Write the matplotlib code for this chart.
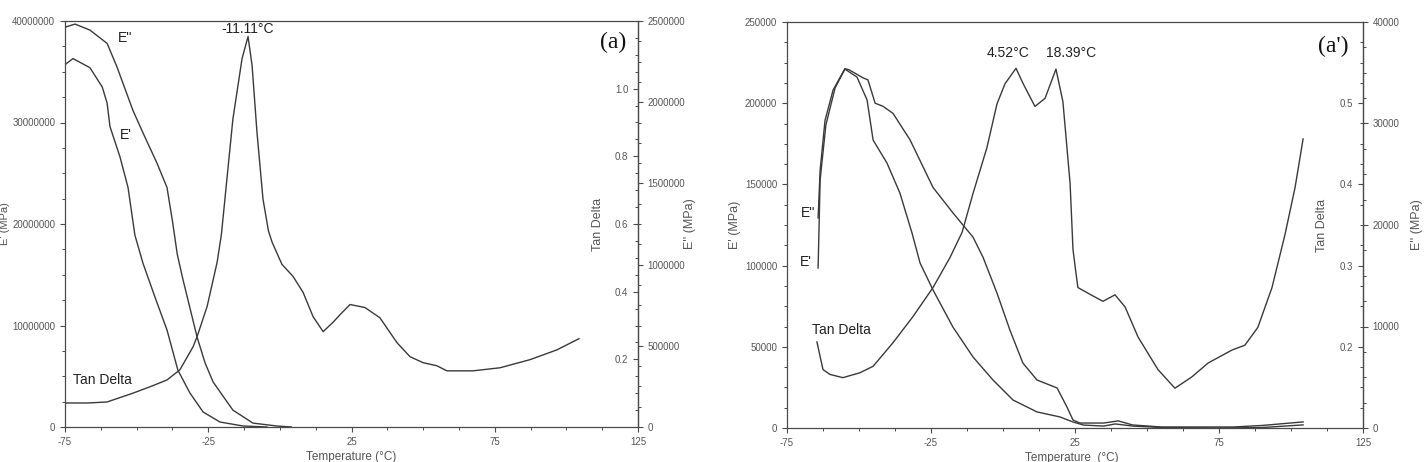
import matplotlib
matplotlib.use('Agg')
import matplotlib.pyplot as plt
from matplotlib.ticker import MultipleLocator, FormatStrFormatter

plt.rcParams['font.family'] = ['Liberation Sans', 'DejaVu Sans']
plt.rcParams['axes.unicode_minus'] = False

temp_ticks = [-75, -25, 25, 75, 125]

# ---- panel (a) ----
a_e1_temp = [-75, -72.2, -66.3, -62.0, -60.3, -59.3, -55.8, -53.0, -50.6, -47.8, -43.6,
             -39.4, -35.6, -31.4, -26.8, -20.9, -12.9, -4.5]
a_e1 = [35700000, 36300000, 35400000, 33500000, 31900000, 29600000, 26600000, 23600000,
        18900000, 16150000, 12800000, 9560000, 5600000, 3350000, 1480000, 490000, 100000, 0]

a_e2_temp = [-75, -71.5, -66.3, -60.3, -56.9, -51.3, -47.8, -42.9, -39.4, -37.5, -35.8,
             -33.8, -28.9, -26.1, -23.3, -16.4, -9.4, -1.0, 4.0]
a_e2 = [2462000, 2481000, 2444000, 2362000, 2219000, 1950000, 1812000, 1625000, 1475000,
        1269000, 1062000, 906000, 554000, 394000, 277000, 104000, 24000, 6000, 0]

a_tan_temp = [-75, -67.0, -60.3, -51.3, -45.3, -39.4, -34.9, -30.3, -28.9, -25.4, -21.9,
              -20.4, -16.4, -13.2, -11.11, -9.7, -8.0, -5.9, -4.0, -2.7, 0.7, 4.6, 8.1,
              11.6, 15.1, 18.5, 21.0, 24.5, 28.0, 29.7, 34.9, 40.9, 45.4, 50.0, 54.8,
              58.3, 67.4, 76.8, 87.3, 96.7, 104.4]
a_tan = [0.071, 0.071, 0.074, 0.100, 0.119, 0.139, 0.169, 0.237, 0.267, 0.356, 0.487,
         0.570, 0.910, 1.089, 1.154, 1.068, 0.872, 0.674, 0.580, 0.546, 0.481, 0.445,
         0.398, 0.326, 0.282, 0.309, 0.332, 0.362, 0.356, 0.353, 0.323, 0.249, 0.208,
         0.190, 0.181, 0.166, 0.166, 0.175, 0.199, 0.228, 0.261]

# ---- panel (a') ----
ap_e1_temp = [-64.2, -63.5, -61.5, -58.3, -54.9, -50.7, -47.2, -45.1, -40.3, -35.8, -31.6,
              -28.8, -24.3, -17.4, -10.4, -3.5, 3.5, 11.8, 19.8, 24.3, 28.0, 35.0, 39.0,
              45.0, 55.0, 75.0, 90.0, 104.2]
ap_e1 = [98500, 152700, 186600, 209400, 221000, 216100, 202000, 177300, 163200, 144700,
         120100, 101600, 85000, 62200, 43700, 29600, 17200, 9900, 6800, 3700, 1800, 1200,
         2500, 1200, 300, 0, 300, 1900]

ap_e2_temp = [-64.2, -63.5, -61.8, -59.0, -54.9, -53.5, -48.6, -46.9, -44.4, -41.7, -38.2,
              -32.3, -24.3, -17.4, -10.4, -6.9, -2.1, 2.4, 6.9, 11.8, 18.8, 22.2, 24.3,
              26.7, 35.0, 40.0, 45.0, 55.0, 80.0, 90.0, 104.2]
ap_e2 = [20700, 25400, 30300, 33300, 35400, 35300, 34500, 34300, 32000, 31700, 31000,
         28400, 23700, 21200, 18800, 16800, 13300, 9650, 6400, 4730, 3940, 2070, 790,
         490, 490, 700, 300, 100, 100, 250, 600]

ap_tan_temp = [-64.6, -63.5, -62.5, -60.1, -55.6, -49.7, -45.1, -38.2, -31.3, -24.3, -18.4,
               -14.2, -10.4, -5.6, -2.1, 0.7, 4.52, 7.0, 11.1, 14.6, 18.39, 20.8, 23.3,
               24.3, 25.0, 26.0, 29.5, 34.7, 38.9, 42.4, 46.9, 53.8, 59.7, 65.6, 71.2,
               79.5, 84.0, 88.5, 93.4, 97.9, 101.4, 104.2]
ap_tan = [0.206, 0.188, 0.172, 0.166, 0.162, 0.168, 0.176, 0.205, 0.237, 0.273, 0.310,
          0.341, 0.389, 0.445, 0.499, 0.524, 0.543, 0.524, 0.496, 0.506, 0.542, 0.502,
          0.401, 0.320, 0.300, 0.273, 0.266, 0.256, 0.264, 0.249, 0.212, 0.172, 0.149,
          0.163, 0.180, 0.196, 0.202, 0.224, 0.273, 0.338, 0.396, 0.456]

line_col = '#3a3a3a'
axis_col = '#4a4a4a'
tick_col = '#555555'
text_col = '#222222'


def make_panel(fig, rect, e1_lim, e1_step, e2_lim, e2_step, tan_lim, tan_ticks, tan_minor):
    ax = fig.add_axes(rect)
    tan = ax.twinx()
    e2 = ax.twinx()

    ax.set_xlim(-75, 125)
    ax.set_ylim(*e1_lim)
    e2.set_ylim(*e2_lim)
    tan.set_ylim(*tan_lim)

    for s in ax.spines.values():
        s.set_color(axis_col)
        s.set_linewidth(0.9)
    # tan delta shares the right spine, but ticks/labels point inwards
    for s in ['top', 'bottom', 'right']:
        tan.spines[s].set_visible(False)
    tan.spines['left'].set_position(('axes', 1.0))
    tan.spines['left'].set_color(axis_col)
    tan.yaxis.set_ticks_position('left')
    for s in ['top', 'bottom', 'left']:
        e2.spines[s].set_visible(False)
    e2.spines['right'].set_color(axis_col)

    ax.set_xticks(temp_ticks)
    ax.xaxis.set_minor_locator(MultipleLocator(12.5))
    ax.yaxis.set_major_locator(MultipleLocator(e1_step))
    ax.yaxis.set_minor_locator(MultipleLocator(e1_step / 4))
    ax.yaxis.set_major_formatter(FormatStrFormatter('%d'))
    e2.yaxis.set_major_locator(MultipleLocator(e2_step))
    e2.yaxis.set_minor_locator(MultipleLocator(e2_step / 4))
    e2.yaxis.set_major_formatter(FormatStrFormatter('%d'))
    tan.set_yticks(tan_ticks)
    tan.yaxis.set_minor_locator(MultipleLocator(tan_minor))
    tan.yaxis.set_major_formatter(FormatStrFormatter('%.1f'))

    for a in (ax, tan, e2):
        a.tick_params(which='major', length=3.5, width=0.8, color=axis_col,
                      labelsize=7, labelcolor=tick_col, pad=3.5)
        a.tick_params(which='minor', length=2, width=0.7, color=axis_col)
    return ax, tan, e2


def label(ax, x, y, s, **kw):
    opts = dict(transform=ax.transAxes, ha='center', va='center', fontsize=10, color=text_col)
    opts.update(kw)
    ax.text(x, y, s, **opts)


fig = plt.figure(figsize=(14.25, 4.62), dpi=100)

# (a)
ax, tan, e2 = make_panel(fig, [65 / 1425, 35 / 462, 573 / 1425, 406 / 462],
                         (0, 40000000), 10000000, (0, 2500000), 500000,
                         (0, 1.2), [0.2, 0.4, 0.6, 0.8, 1.0], 0.05)
ax.plot(a_e1_temp, a_e1, color=line_col, lw=1.0)
e2.plot(a_e2_temp, a_e2, color=line_col, lw=1.0)
tan.plot(a_tan_temp, a_tan, color=line_col, lw=1.0)

label(ax, 0.105, 0.958, "E''")
label(ax, 0.106, 0.719, "E'")
label(ax, 0.014, 0.116, 'Tan Delta', ha='left')
label(ax, 0.319, 0.980, '-11.11°C')
label(ax, 0.956, 0.948, '(a)', fontsize=17, family='Liberation Serif', color='#111111')
label(ax, 0.5, -0.058, 'Temperature (°C)', va='top', fontsize=8.5, color=tick_col)
label(ax, -0.104, 0.5, "E' (MPa)", rotation=90, fontsize=8, color=tick_col)
label(ax, 0.930, 0.5, 'Tan Delta', rotation=90, fontsize=9, color=tick_col)
label(ax, 1.091, 0.5, "E'' (MPa)", rotation=90, fontsize=9, color=tick_col)

# (a')
bx, btan, be2 = make_panel(fig, [787 / 1425, 34 / 462, 576 / 1425, 406 / 462],
                           (0, 250000), 50000, (0, 40000), 10000,
                           (0.1, 0.6), [0.2, 0.3, 0.4, 0.5], 0.025)
bx.plot(ap_e1_temp, ap_e1, color=line_col, lw=1.0)
be2.plot(ap_e2_temp, ap_e2, color=line_col, lw=1.0)
btan.plot(ap_tan_temp, ap_tan, color=line_col, lw=1.0)

label(bx, 0.036, 0.530, "E''")
label(bx, 0.033, 0.409, "E'")
label(bx, 0.043, 0.241, 'Tan Delta', ha='left')
label(bx, 0.384, 0.924, '4.52°C')
label(bx, 0.493, 0.924, '18.39°C')
label(bx, 0.948, 0.941, "(a')", fontsize=17, family='Liberation Serif', color='#111111')
label(bx, 0.495, -0.058, 'Temperature  (°C)', va='top', fontsize=8.5, color=tick_col)
label(bx, -0.090, 0.5, "E' (MPa)", rotation=90, fontsize=9, color=tick_col)
label(bx, 0.929, 0.5, 'Tan Delta', rotation=90, fontsize=9, color=tick_col)
label(bx, 1.094, 0.5, "E'' (MPa)", rotation=90, fontsize=9, color=tick_col)

fig.savefig('out.png', dpi=100)
